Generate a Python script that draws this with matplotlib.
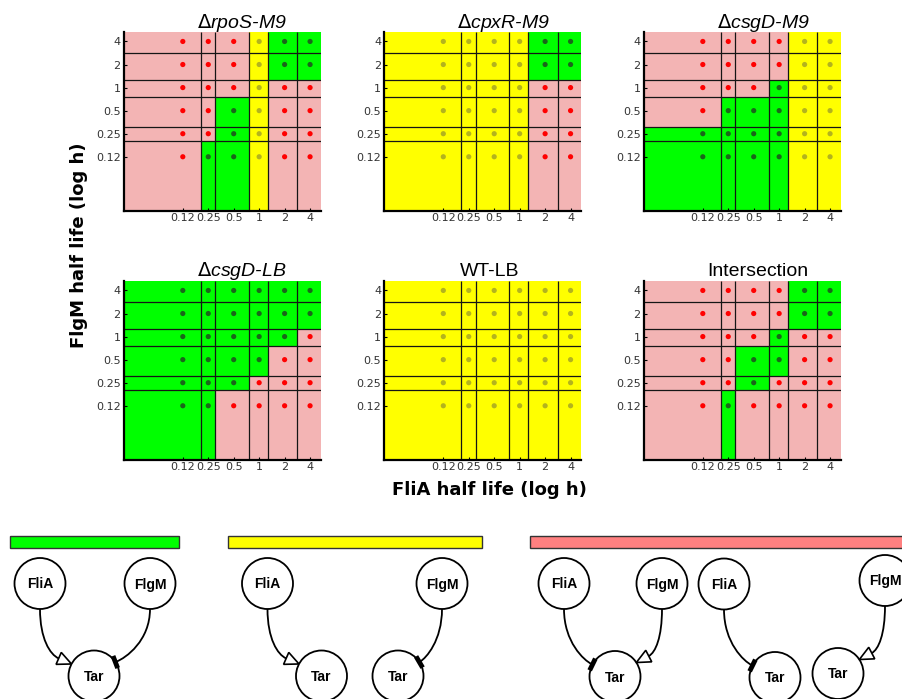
import numpy as np
import matplotlib.pyplot as plt
from matplotlib.colors import ListedColormap
from matplotlib.patches import Circle, Polygon, Rectangle, PathPatch
from matplotlib.path import Path

plt.rcParams['font.family'] = ['Liberation Sans', 'DejaVu Sans']

# muestreo de vidas medias (h), igual para FliA (x) y FlgM (y)
half_life = [0.125, 0.25, 0.5, 1, 2, 4]
tick_labels = ["0.12", "0.25", "0.5", "1", "2", "4"]

# fenotipo en cada punto: filas desde FlgM = 4 (arriba) hasta 0.12,
# columnas FliA = 0.12 ... 4.  G = verde, Y = amarillo, R = rojo
rpoS_M9 = ["RRRYGG", "RRRYGG", "RRRYRR", "RRGYRR", "RRGYRR", "RGGYRR"]
cpxR_M9 = ["YYYYGG", "YYYYGG", "YYYYRR", "YYYYRR", "YYYYRR", "YYYYRR"]
csgD_M9 = ["RRRRYY", "RRRRYY", "RRRGYY", "RGGGYY", "GGGGYY", "GGGGYY"]
csgD_LB = ["GGGGGG", "GGGGGG", "GGGGGR", "GGGGRR", "GGGRRR", "GGRRRR"]
WT_LB = ["YYYYYY"] * 6
intersection = ["RRRRGG", "RRRRGG", "RRRGRR", "RRGGRR", "RRGRRR", "RGRRRR"]

panel_data = [rpoS_M9, cpxR_M9, csgD_M9, csgD_LB, WT_LB, intersection]
panel_titles = [r"$\Delta$rpoS-M9", r"$\Delta$cpxR-M9", r"$\Delta$csgD-M9",
                r"$\Delta$csgD-LB", "WT-LB", "Intersection"]
panel_italic = [True, True, True, True, False, False]
title_x = [0.60, 0.607, 0.607, 0.60, 0.536, 0.579]

# bordes de las celdas (log2 h)
cell_edges = 2.0 ** np.array([-5.33, -2.3, -1.72, -0.4, 0.34, 1.49, 2.41])

fill = {"R": "#f3b4b4", "G": "#00ff00", "Y": "#ffff00"}
dot = {"R": "#ff0000", "G": "#1a661a", "Y": "#b3b31e"}
codes = "RGY"

W, H = 902, 699
fig = plt.figure(figsize=(W / 100, H / 100), dpi=100)


def px_axes(left, top, width, height):
    return fig.add_axes([left / W, 1 - (top + height) / H, width / W, height / H])


lefts = [123.5, 384, 643.5]
tops = [32, 281]
baselines = [28.3, 275.5]
pw, ph = 197, 178.5

cmap = ListedColormap([fill[c] for c in codes])
for k, grid in enumerate(panel_data):
    r, c = divmod(k, 3)
    ax = px_axes(lefts[c], tops[r], pw, ph)
    ax.set_xscale("log", base=2)
    ax.set_yscale("log", base=2)
    z = np.array([[codes.index(ch) for ch in row] for row in grid[::-1]])
    ax.pcolormesh(cell_edges, cell_edges, z, cmap=cmap, vmin=-0.5, vmax=2.5,
                  shading="flat", zorder=1)
    ax.vlines(cell_edges[1:-1], cell_edges[0], cell_edges[-1],
              colors="#151515", lw=0.9, zorder=2)
    ax.hlines(cell_edges[1:-1], cell_edges[0], cell_edges[-1],
              colors="#151515", lw=0.9, zorder=2)
    for code in codes:
        xs, ys = [], []
        for i, row in enumerate(grid[::-1]):
            for j, ch in enumerate(row):
                if ch == code:
                    xs.append(half_life[j])
                    ys.append(half_life[i])
        ax.scatter(xs, ys, s=14, color=dot[code], edgecolors="none", zorder=4)

    ax.set_xlim(cell_edges[0], cell_edges[-1])
    ax.set_ylim(cell_edges[0], cell_edges[-1])
    ax.minorticks_off()
    ax.set_xticks(half_life)
    ax.set_xticklabels(tick_labels)
    ax.set_yticks(half_life)
    ax.set_yticklabels(tick_labels)
    ax.tick_params(direction="in", length=2.5, width=0.8, pad=2,
                   labelsize=8, labelcolor="#333333")
    for lab in ax.get_xticklabels() + ax.get_yticklabels():
        lab.set_family("DejaVu Sans")
    for s in ("top", "right"):
        ax.spines[s].set_visible(False)
    for s in ("left", "bottom"):
        ax.spines[s].set_linewidth(1.6)
        ax.spines[s].set_zorder(5)

    fig.text((lefts[c] + title_x[k] * pw) / W, 1 - baselines[r] / H,
             panel_titles[k], ha="center", va="baseline", fontsize=14,
             style="italic" if panel_italic[k] else "normal")

fig.text(489 / W, 1 - 490 / H, "FliA half life (log h)", ha="center",
         va="center", fontsize=13, fontweight="bold", family="DejaVu Sans")
fig.text(79 / W, 1 - 245 / H, "FlgM half life (log h)", ha="center",
         va="center", rotation=90, fontsize=13, fontweight="bold",
         family="DejaVu Sans")

# --- esquemas de red abajo ---
ax_d = fig.add_axes([0, 0, 1, 1])
ax_d.set_xlim(0, W)
ax_d.set_ylim(H, 0)
ax_d.axis("off")

bars = [(10, 169, "#00ff00"), (228, 254, "#ffff00"), (530, 390, "#ff8080")]
for x0, w, col in bars:
    ax_d.add_patch(Rectangle((x0, 535.5), w, 12, fc=col, ec="#333333", lw=1))

R = 25.5
nodes = {
    "a1": ("FliA", 40, 583.5), "m1": ("FlgM", 150, 583.5), "t1": ("Tar", 94, 676),
    "a2": ("FliA", 267.5, 583.5), "m2": ("FlgM", 442, 583.5),
    "t2": ("Tar", 321.5, 676), "t2b": ("Tar", 398, 676),
    "a3": ("FliA", 564, 583.5), "m3": ("FlgM", 662, 583.5), "t3": ("Tar", 615, 676.5),
    "a4": ("FliA", 724, 584), "m4": ("FlgM", 885, 580.5),
    "t4": ("Tar", 775, 677.5), "t4b": ("Tar", 838, 673.5),
}
links = [("a1", "t1", "act", "L"), ("m1", "t1", "inh", "R"),
         ("a2", "t2", "act", "L"), ("m2", "t2b", "inh", "R"),
         ("a3", "t3", "inh", "L"), ("m3", "t3", "act", "R"),
         ("a4", "t4", "inh", "L"), ("m4", "t4b", "act", "R")]

for name, (label, x, y) in nodes.items():
    ax_d.add_patch(Circle((x, y), R, fc="white", ec="black", lw=1.3, zorder=2))
    ax_d.text(x, y + 5, label, ha="center", va="baseline", fontsize=10,
              fontweight="bold", zorder=3)


def unit(v):
    v = np.asarray(v, dtype=float)
    return v / np.hypot(*v)


for src, dst, kind, side in links:
    _, sx, sy = nodes[src]
    _, tx, ty = nodes[dst]
    u = unit([-0.88, -0.47]) if side == "L" else unit([0.84, -0.55])
    tip = np.array([tx, ty]) + R * u
    p0 = np.array([sx, sy + R])
    dy = tip[1] - p0[1]
    d = unit(tip - np.array([sx, p0[1] + 0.75 * dy]))
    n = np.array([-d[1], d[0]])
    tri_len = 14
    end = tip - d * tri_len if kind == "act" else tip - d * 1.0
    p1 = np.array([p0[0], p0[1] + 0.6 * (end[1] - p0[1])])
    p2 = end - d * 0.3 * abs(tip[0] - sx)
    path = Path([p0, p1, p2, end], [Path.MOVETO, Path.CURVE4, Path.CURVE4, Path.CURVE4])
    ax_d.add_patch(PathPatch(path, fc="none", ec="black", lw=1.3, zorder=3))
    if kind == "act":
        base = tip - d * tri_len
        tri = [tip, base + n * 6.5, base - n * 6.5]
        ax_d.add_patch(Polygon(tri, closed=True, fc="white", ec="black",
                               lw=1.2, zorder=4))
    else:
        a, b = tip + n * 6.5, tip - n * 6.5
        ax_d.plot([a[0], b[0]], [a[1], b[1]], color="black", lw=3.5,
                  solid_capstyle="butt", zorder=4)

fig.savefig("out.png", dpi=100)
